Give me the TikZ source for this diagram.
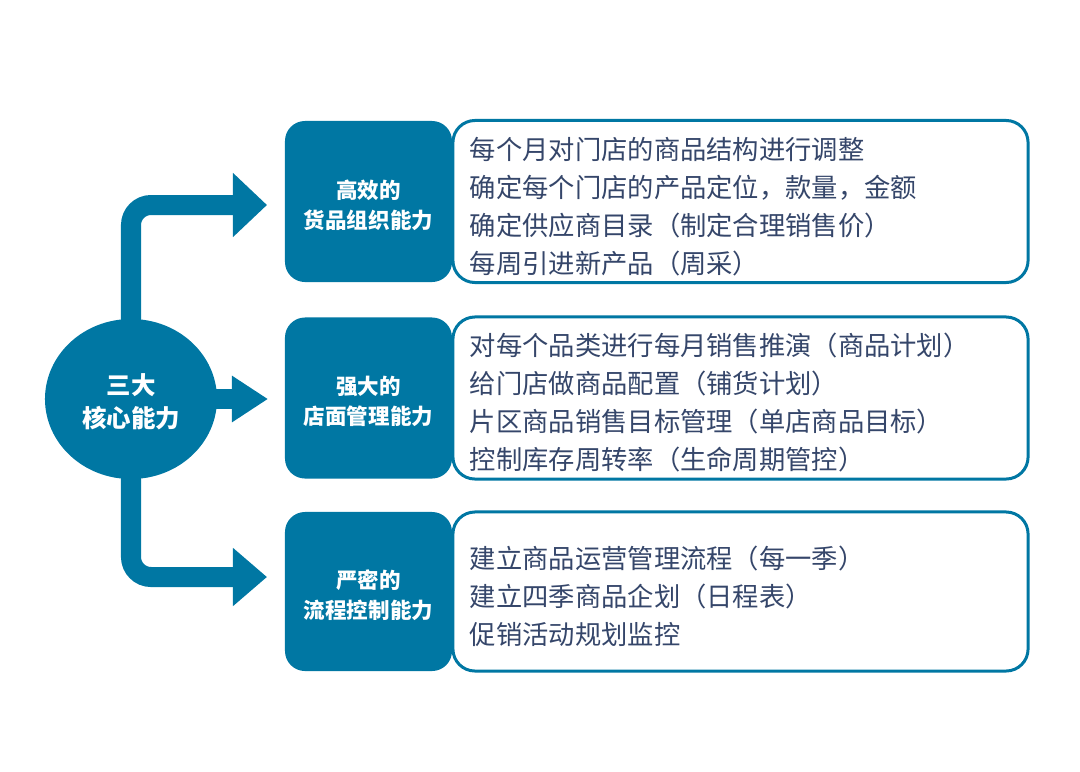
\documentclass[tikz,border=0pt]{standalone}
\usepackage{fontspec}
\setmainfont{Noto Sans CJK SC}
\usetikzlibrary{arrows.meta,shapes.geometric}
\definecolor{deepblue}{HTML}{0077A3}
\definecolor{inktext}{HTML}{35466A}

\tikzset{capbox/.style={fill=deepblue,rounded corners=0.5cm,minimum width=4.175cm,minimum height=4.025cm,inner sep=0pt,text=white,align=center,font=\fontsize{15.3}{21.3}\selectfont\bfseries}}
\tikzset{itembox/.style={draw=deepblue,line width=0.075cm,fill=white,rounded corners=0.55cm,minimum width=14.375cm,minimum height=4.05cm,text width=13.525cm,inner sep=0pt,align=left,text=inktext,font=\fontsize{18.7}{27}\selectfont}}
\tikzset{core/.style={ellipse,fill=deepblue,minimum width=4.3cm,minimum height=4cm,inner sep=0pt,text=white,align=center,font=\fontsize{17.4}{23.4}\selectfont\bfseries}}
\tikzset{flow/.style={draw=deepblue,line width=0.5cm,rounded corners=0.5cm}}
\newcommand{\lift}[1]{\rule{0pt}{#1}}

\begin{document}
\begin{tikzpicture}[x=0.025cm,y=-0.025cm]
\useasboundingbox (0,0) rectangle (1080,771);
\node[core] (core) at (131,399) {\lift{19pt}三大\\核心能力};
\node[capbox] (cap1) at (368.5,201.5) {\lift{18pt}高效的\\货品组织能力};
\node[capbox] (cap2) at (368.5,398) {\lift{18pt}强大的\\店面管理能力};
\node[capbox,minimum height=3.975cm] (cap3) at (368.5,591.5) {\lift{18pt}严密的\\流程控制能力};
\node[itembox] (list1) at (740.5,201.5) {\lift{23pt}每个月对门店的商品结构进行调整\\确定每个门店的产品定位，款量，金额\\确定供应商目录（制定合理销售价）\\每周引进新产品（周采）};
\node[itembox] (list2) at (740.5,398) {\lift{23pt}对每个品类进行每月销售推演（商品计划）\\给门店做商品配置（铺货计划）\\片区商品销售目标管理（单店商品目标）\\控制库存周转率（生命周期管控）};
\node[itembox,minimum height=3.975cm] (list3) at (740.5,591.5) {\lift{23pt}建立商品运营管理流程（每一季）\\建立四季商品企划（日程表）\\促销活动规划监控};
\coordinate (tip1) at (267,205);
\coordinate (tip2) at (268,399);
\coordinate (tip3) at (267,577);
\path[flow,-{Triangle[length=0.85cm,width=1.55cm]}] ([yshift=-0.3cm]core.north) |- (tip1);
\path[flow,-{Triangle[length=0.9cm,width=1.1cm]}] ([xshift=-0.3cm]core.east) -- (tip2);
\path[flow,-{Triangle[length=0.85cm,width=1.4cm]}] ([yshift=0.3cm]core.south) |- (tip3);
\end{tikzpicture}
\end{document}
